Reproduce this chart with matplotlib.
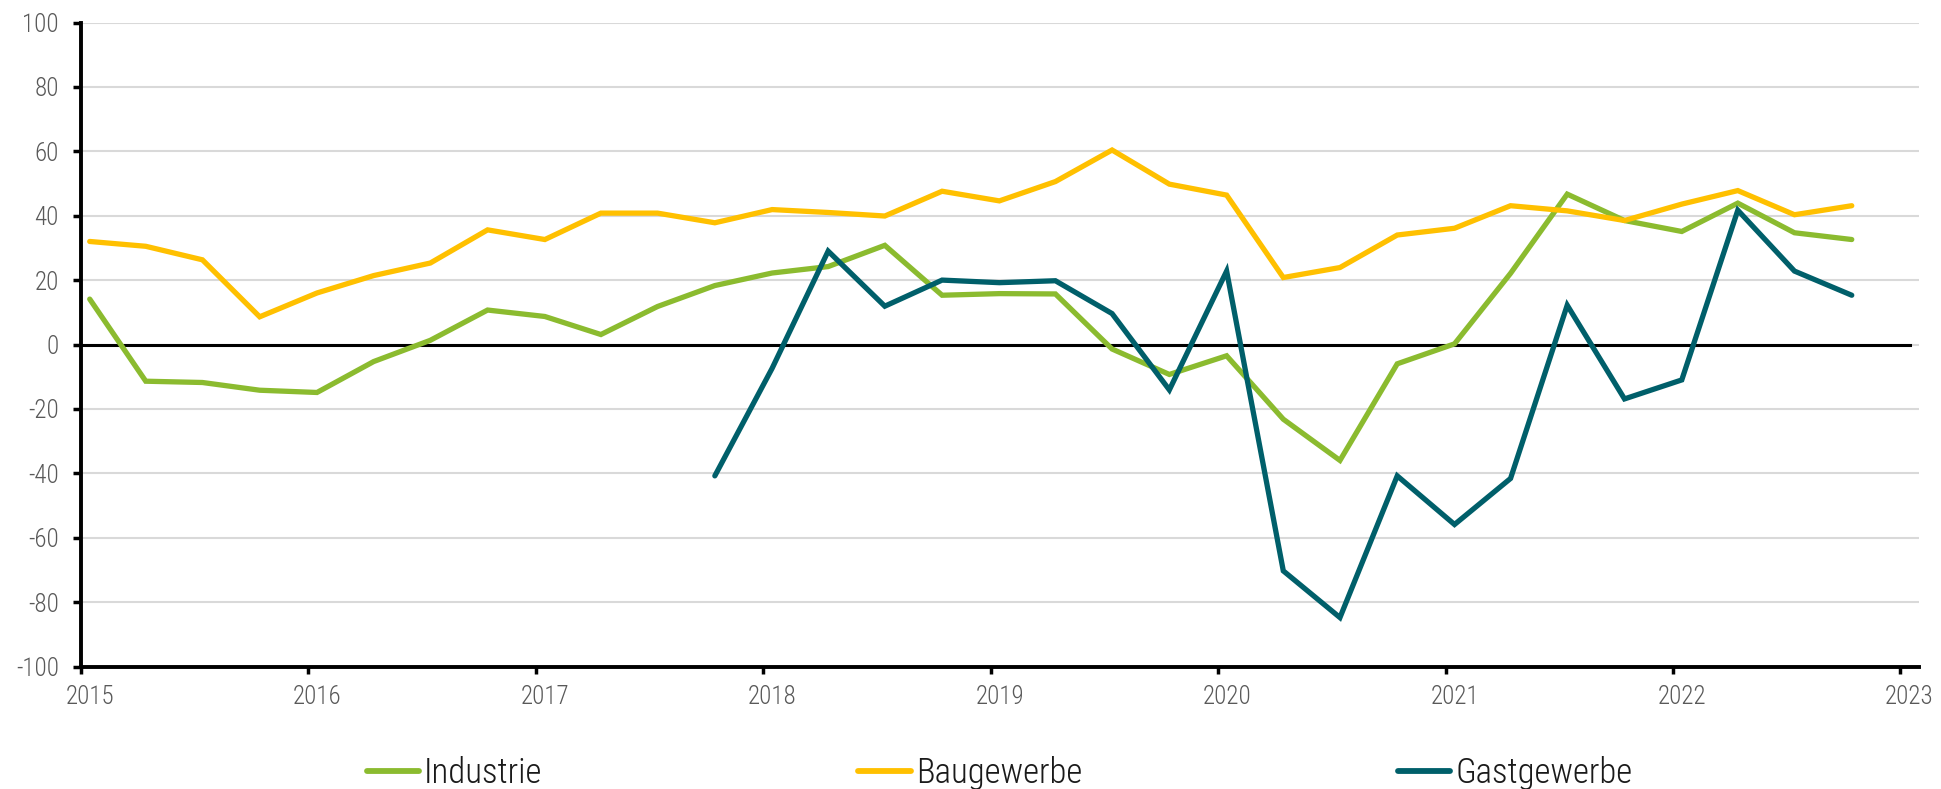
import matplotlib
matplotlib.use("Agg")
import matplotlib.pyplot as plt
import matplotlib.transforms as mtransforms
import pandas as pd
import numpy as np
from matplotlib import font_manager

# --- data ---
quarters = pd.date_range("2015-01-01", periods=32, freq="QS") + pd.Timedelta(days=14)
industrie = [14.1, -11.4, -11.8, -14.2,
             -14.9, -5.3, 1.3, 10.7,
             8.7, 3.1, 11.8, 18.3,
             22.2, 24.2, 30.8, 15.3,
             15.8, 15.7, -1.4, -9.3,
             -3.5, -23.2, -36.0, -6.0,
             0.2, 22.1, 46.7, 38.5,
             35.1, 43.9, 34.7, 32.6]
baugewerbe = [32.0, 30.5, 26.3, 8.6,
              16.0, 21.4, 25.3, 35.6,
              32.6, 40.8, 40.8, 37.8,
              41.9, 41.0, 39.9, 47.6,
              44.6, 50.6, 60.4, 49.8,
              46.4, 20.8, 23.9, 34.0,
              36.1, 43.1, 41.5, 38.5,
              43.6, 47.8, 40.3, 43.1]
gastgewerbe = [np.nan, np.nan, np.nan, np.nan,
               np.nan, np.nan, np.nan, np.nan,
               np.nan, np.nan, np.nan, -40.8,
               -7.4, 29.0, 11.9, 20.0,
               19.2, 19.8, 9.6, -14.1,
               22.8, -70.3, -84.8, -40.8,
               -55.9, -41.6, 12.2, -16.9,
               -11.0, 41.7, 22.8, 15.3]
series_names = ["Industrie", "Baugewerbe", "Gastgewerbe"]
series_colors = ["#8BBB2F", "#FFC000", "#005F6A"]
year_ticks = list(range(2015, 2024))
y_ticks = list(range(-100, 101, 20))

# --- fonts ---
avail = {f.name for f in font_manager.fontManager.ttflist}
fam = "Open Sans"
for cand in ["Roboto Condensed", "Open Sans Condensed", "Liberation Sans Narrow", "Open Sans"]:
    if cand in avail:
        fam = cand
        break
plt.rcParams["font.family"] = [fam, "DejaVu Sans"]
plt.rcParams["font.weight"] = "light"

W, H = 1941, 789
fig = plt.figure(figsize=(W / 100, H / 100), dpi=100)
ax = fig.add_axes([81 / W, 122.5 / H, 1838 / W, 644 / H])

for vals, name, col in zip([industrie, baugewerbe, gastgewerbe], series_names, series_colors):
    ax.plot(quarters, vals, color=col, lw=3.8, label=name, solid_capstyle="round",
            solid_joinstyle="miter", zorder=3)

ax.set_ylim(-100, 100)
ax.set_xlim(pd.Timestamp("2015-01-01"), pd.Timestamp("2023-01-31"))
ax.set_yticks(y_ticks)
ax.set_yticklabels([str(v) for v in y_ticks])
ax.set_xticks([pd.Timestamp(f"{y}-01-01") for y in year_ticks])
ax.set_xticklabels([str(y) for y in year_ticks])

ax.grid(axis="y", color="#D9D9D9", lw=1.5, zorder=0)
ax.grid(axis="x", visible=False)
ax.axhline(0, color="black", lw=2.2, zorder=2, xmax=0.995)

for s in ["top", "right"]:
    ax.spines[s].set_visible(False)
ax.spines["left"].set_linewidth(2.8)
ax.spines["bottom"].set_linewidth(2.8)
ax.spines["left"].set_zorder(4)
ax.spines["bottom"].set_zorder(4)

ax.tick_params(axis="y", length=6, width=2.5, labelsize=18, labelcolor="#595959", pad=10)
ax.tick_params(axis="x", length=5, width=2.5, labelsize=18, labelcolor="#595959", pad=8)

shift = mtransforms.ScaledTranslation(9 / 100, 0, fig.dpi_scale_trans)
for lab in ax.get_xticklabels():
    lab.set_transform(lab.get_transform() + shift)

leg = fig.legend(loc="center", bbox_to_anchor=(0.515, 0.02), ncol=3, frameon=False,
                 fontsize=25, handlelength=1.5, handletextpad=0.15, columnspacing=9.1)
for line in leg.get_lines():
    line.set_linewidth(4.2)
for t in leg.get_texts():
    t.set_color("#1a1a1a")

fig.savefig("out.png", dpi=100)
